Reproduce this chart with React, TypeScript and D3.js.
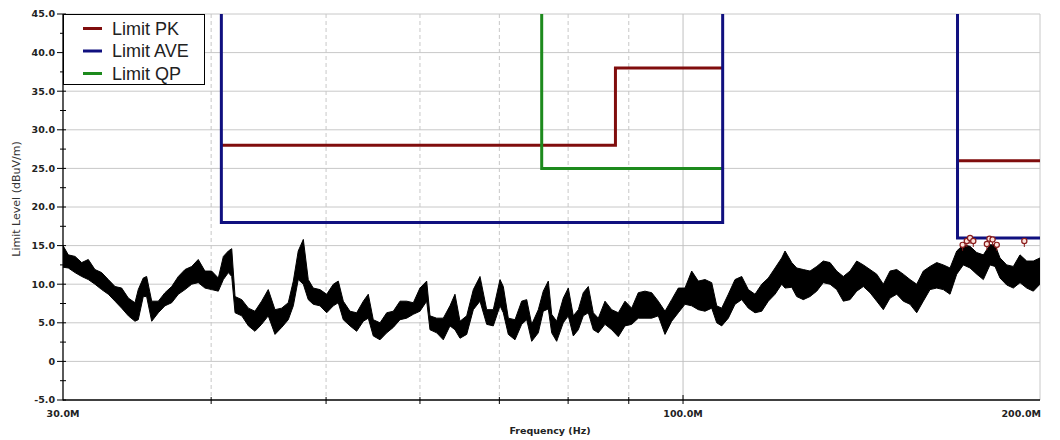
import React from "react";
import * as d3 from "d3";

// measured trace (MHz, dBuV/m) - upper and lower edge of the noise band
const freqMHz = [
  30.0, 30.31, 30.71, 31.11, 31.51, 31.92, 32.34, 32.76, 33.19, 33.62,
  34.06, 34.5, 34.72, 35.06, 35.29, 35.64, 36.1, 36.57, 37.05, 37.53,
  38.02, 38.52, 39.01, 39.52, 40.04, 40.56, 40.96, 41.36, 41.63, 41.9,
  42.45, 43.0, 43.55, 44.12, 44.69, 45.28, 45.87, 46.46, 46.92, 47.37,
  47.84, 48.3, 48.77, 49.41, 50.06, 50.71, 51.2, 51.7, 52.38, 53.06,
  53.75, 54.27, 54.8, 55.52, 56.25, 56.97, 57.72, 58.47, 59.23, 60.0,
  60.79, 61.18, 61.98, 62.78, 63.6, 64.22, 64.85, 65.7, 66.55, 67.42,
  68.3, 69.18, 70.09, 70.54, 71.23, 72.16, 73.1, 73.82, 74.54, 75.5,
  76.23, 76.98, 77.49, 78.24, 79.25, 80.03, 80.81, 81.6, 82.39, 83.2,
  84.01, 84.83, 85.94, 87.07, 88.19, 89.34, 90.51, 91.68, 92.88, 94.1,
  95.31, 96.56, 97.82, 99.09, 100.38, 101.7, 103.01, 104.36, 105.73, 106.76,
  107.8, 109.19, 110.62, 112.07, 113.52, 115.0, 116.51, 118.01, 119.56, 121.12,
  121.9, 123.5, 124.7, 126.31, 127.96, 129.64, 131.31, 133.03, 134.77, 136.51,
  138.3, 140.11, 141.92, 143.78, 145.66, 147.54, 149.47, 151.43, 153.38, 155.39,
  157.42, 159.45, 161.54, 163.66, 165.77, 167.94, 170.14, 172.33, 174.59, 176.88,
  179.16, 181.5, 183.27, 185.06, 187.48, 189.9, 192.39, 194.91, 197.42, 200.0,
];
const levelHigh = [
  15.0, 13.8, 13.6, 12.8, 13.2, 11.9, 11.5, 10.6, 9.7, 9.5,
  8.2, 7.6, 9.3, 10.8, 11.0, 7.8, 7.8, 8.9, 9.7, 11.0,
  11.9, 12.3, 13.2, 11.7, 11.7, 10.8, 13.6, 14.3, 14.6, 8.4,
  8.0, 6.9, 6.5, 7.8, 9.3, 6.7, 6.9, 7.6, 10.4, 14.3,
  15.8, 10.6, 9.5, 9.3, 8.7, 10.0, 10.4, 7.8, 6.5, 6.3,
  7.8, 8.7, 5.4, 5.0, 6.3, 6.5, 7.8, 7.8, 7.6, 9.5,
  10.4, 5.9, 5.6, 5.6, 7.2, 8.7, 5.2, 5.9, 9.3, 11.0,
  6.7, 6.7, 10.6, 9.7, 5.6, 5.4, 7.8, 8.0, 4.8, 6.7,
  9.1, 10.4, 6.1, 5.2, 8.2, 9.5, 5.9, 6.7, 8.9, 9.7,
  6.3, 5.6, 7.8, 6.7, 6.3, 7.8, 6.9, 8.9, 9.1, 8.9,
  7.8, 6.5, 8.0, 9.5, 9.5, 11.7, 10.4, 10.6, 10.2, 7.2,
  6.9, 8.7, 10.6, 11.0, 9.3, 8.7, 10.0, 10.8, 12.1, 13.4,
  14.3, 12.8, 12.1, 11.9, 11.7, 12.3, 13.0, 12.8, 11.7, 11.0,
  11.7, 13.0, 12.5, 11.9, 11.3, 10.0, 11.7, 11.9, 11.3, 10.6,
  10.0, 11.7, 12.3, 12.8, 12.5, 12.1, 14.3, 15.1, 14.9, 14.1,
  13.8, 15.1, 15.1, 13.4, 12.5, 12.3, 13.8, 13.0, 13.0, 13.4,
];
const levelLow = [
  12.2, 12.1, 11.5, 11.0, 10.6, 10.0, 9.3, 8.7, 7.8, 6.9,
  5.9, 5.2, 5.4, 8.4, 8.4, 5.2, 6.3, 7.2, 7.6, 8.7,
  9.3, 10.0, 10.2, 9.5, 9.3, 9.1, 10.6, 11.5, 11.0, 6.3,
  5.9, 4.6, 3.9, 4.8, 5.9, 3.5, 4.4, 5.4, 7.2, 10.6,
  10.0, 8.0, 7.4, 7.2, 6.3, 7.2, 7.6, 5.4, 4.6, 3.9,
  5.2, 5.6, 3.3, 2.8, 3.7, 4.4, 5.4, 5.6, 6.1, 6.5,
  7.8, 4.1, 3.7, 2.8, 4.6, 4.1, 3.0, 3.5, 6.7, 7.8,
  4.8, 4.6, 7.2, 6.3, 3.5, 2.8, 4.8, 5.4, 2.6, 3.7,
  6.5, 6.8, 3.7, 2.6, 5.0, 5.9, 3.3, 4.1, 5.9, 6.3,
  4.1, 3.7, 4.8, 4.1, 3.2, 4.6, 4.8, 5.6, 5.6, 5.6,
  5.9, 3.5, 5.2, 6.3, 7.4, 7.2, 6.7, 6.5, 6.9, 5.0,
  4.6, 5.6, 7.4, 8.0, 6.9, 6.3, 6.5, 7.8, 8.7, 10.0,
  9.5, 9.6, 8.4, 8.0, 8.4, 9.1, 10.2, 10.0, 9.3, 7.8,
  8.0, 9.1, 9.7, 8.9, 7.8, 6.7, 8.2, 8.7, 7.8, 7.4,
  6.3, 7.8, 9.3, 9.5, 9.3, 8.7, 11.3, 12.5, 12.1, 11.3,
  10.6, 12.5, 12.3, 10.8, 9.9, 9.5, 10.2, 9.5, 9.1, 10.0,
];

// limit lines (NaN breaks the line between bands)
const pkFreq = [40.8, 87.7, 87.7, 108, NaN, 170.4, 200];
const pkLevel = [28, 28, 38, 38, NaN, 26, 26];
const aveFreq = [40.8, 40.8, 108, 108, NaN, 170.4, 170.4, 200];
const aveLevel = [45, 18, 18, 45, NaN, 45, 16, 16];
const qpFreq = [76, 76, 108];
const qpLevel = [45, 25, 25];

// peak markers
const markerFreq = [172.1, 173.5, 174.6, 175.7, 180.4, 181.3, 182.4, 183.9, 194.0];
const markerLevel = [15.1, 15.6, 16.0, 15.6, 15.2, 15.9, 15.8, 15.1, 15.6];

const yTicks = [-5, 0, 5, 10, 15, 20, 25, 30, 35, 40, 45];
const yMinorTicks = [-2.5, 2.5, 7.5, 12.5, 17.5, 22.5, 27.5, 32.5, 37.5, 42.5];
const xMinorGrid = [40, 50, 60, 70, 80, 90];
const xTickValues = [30, 100, 200];
const xTickLabels = ["30.0M", "100.0M", "200.0M"];

const legendNames = ["Limit PK", "Limit AVE", "Limit QP"];
const colors = { pk: "#800d0d", ave: "#10107f", qp: "#1d8a1d" };

const W = 1060;
const H = 440;
const left = 63;
const right = 1040;
const top = 14;
const bottom = 400;

const tickFont = "'DejaVu Sans', Verdana, sans-serif";

export default function App() {
  const x = d3.scaleLog().domain([30, 200]).range([left, right]);
  const y = d3.scaleLinear().domain([-5, 45]).range([bottom, top]);

  const trace = freqMHz.map((f, i) => ({ f, hi: levelHigh[i], lo: levelLow[i] }));
  const band = d3
    .area<{ f: number; hi: number; lo: number }>()
    .x((d) => x(d.f))
    .y0((d) => y(d.lo))
    .y1((d) => y(d.hi));

  const limitLine = (fs: number[], ls: number[]) =>
    d3
      .line<number>()
      .defined((_, i) => !isNaN(fs[i]))
      .x((_, i) => x(fs[i]))
      .y((_, i) => y(ls[i]))(fs.map((_, i) => i)) || "";

  const legendColors = [colors.pk, colors.ave, colors.qp];

  return (
    <svg
      width={W}
      height={H}
      style={{ position: "absolute", left: 0, top: 0, background: "#fff" }}
    >
      <defs>
        <clipPath id="plot">
          <rect x={left} y={top} width={right - left} height={bottom - top} />
        </clipPath>
      </defs>

      {/* horizontal grid */}
      {yTicks.slice(1).map((t) => (
        <line key={"hg" + t} x1={left} x2={right} y1={y(t)} y2={y(t)} stroke="#c8c8c8" strokeWidth={1} />
      ))}
      {/* vertical grid */}
      {xMinorGrid.map((f) => (
        <line
          key={"vg" + f}
          x1={x(f)}
          x2={x(f)}
          y1={top}
          y2={bottom}
          stroke="#c8c8c8"
          strokeDasharray="4,3"
        />
      ))}
      <line x1={x(100)} x2={x(100)} y1={top} y2={bottom} stroke="#c0c0c0" />
      <line x1={right} x2={right} y1={top} y2={bottom} stroke="#c8c8c8" />

      <g clipPath="url(#plot)">
        {/* noise trace */}
        <path d={band(trace) || ""} fill="#000" stroke="#000" strokeWidth={1} />

        {/* limits */}
        <path d={limitLine(pkFreq, pkLevel)} fill="none" stroke={colors.pk} strokeWidth={3} />
        <path d={limitLine(qpFreq, qpLevel)} fill="none" stroke={colors.qp} strokeWidth={3} />
        <path d={limitLine(aveFreq, aveLevel)} fill="none" stroke={colors.ave} strokeWidth={3} />

        {/* markers */}
        {markerFreq.map((f, i) => (
          <g key={"m" + i}>
            <line x1={x(f)} x2={x(f)} y1={y(markerLevel[i])} y2={y(markerLevel[i]) + 6} stroke="#8a1c1c" />
            <circle cx={x(f)} cy={y(markerLevel[i])} r={2.6} fill="#fbe3dc" stroke="#8a1c1c" strokeWidth={1.2} />
          </g>
        ))}
      </g>

      {/* y axis */}
      <line x1={left} x2={left} y1={top} y2={bottom + 0.5} stroke="#000" strokeWidth={1.3} />
      {yTicks.map((t) => (
        <g key={"yt" + t}>
          <line x1={left - 6} x2={left + 3} y1={y(t)} y2={y(t)} stroke="#000" />
          <text
            x={left - 8}
            y={y(t)}
            dy="0.36em"
            textAnchor="end"
            fontFamily={tickFont}
            fontWeight="bold"
            fontSize={9.5}
            fill="#222"
          >
            {t === 0 ? "0" : t.toFixed(1)}
          </text>
        </g>
      ))}
      {yMinorTicks.map((t) => (
        <line key={"ym" + t} x1={left - 3} x2={left + 3} y1={y(t)} y2={y(t)} stroke="#000" />
      ))}
      <text
        transform={`translate(20, ${(top + bottom) / 2 - 8}) rotate(-90)`}
        textAnchor="middle"
        fontFamily={tickFont}
        fontSize={11}
        fill="#333"
      >
        Limit Level (dBuV/m)
      </text>

      {/* x axis */}
      <line x1={left} x2={right} y1={bottom} y2={bottom} stroke="#000" strokeWidth={1.3} />
      {xMinorGrid.map((f) => (
        <line key={"xt" + f} x1={x(f)} x2={x(f)} y1={bottom - 3} y2={bottom + 4} stroke="#000" />
      ))}
      <line x1={x(100)} x2={x(100)} y1={bottom - 5} y2={bottom + 4} stroke="#000" />
      {xTickValues.map((f, i) => (
        <text
          key={"xl" + f}
          x={i === xTickValues.length - 1 ? right + 1 : x(f)}
          y={bottom + 17}
          textAnchor={i === xTickValues.length - 1 ? "end" : "middle"}
          fontFamily={tickFont}
          fontWeight="bold"
          fontSize={9.5}
          fill="#222"
        >
          {xTickLabels[i]}
        </text>
      ))}
      <text
        x={550}
        y={434}
        textAnchor="middle"
        fontFamily={tickFont}
        fontWeight="bold"
        fontSize={9.5}
        fill="#222"
      >
        Frequency (Hz)
      </text>

      {/* legend */}
      <rect x={63.5} y={14.5} width={141} height={70} fill="#fff" stroke="#000" strokeWidth={1} />
      {legendNames.map((name, i) => (
        <g key={name} transform={`translate(0, ${28.5 + i * 22.5})`}>
          <line x1={83} x2={102} y1={0} y2={0} stroke={legendColors[i]} strokeWidth={3} />
          <text
            x={112}
            y={0}
            dy="0.36em"
            fontFamily="'Liberation Sans', Arial, sans-serif"
            fontSize={18}
            fill="#222"
          >
            {name}
          </text>
        </g>
      ))}
    </svg>
  );
}
